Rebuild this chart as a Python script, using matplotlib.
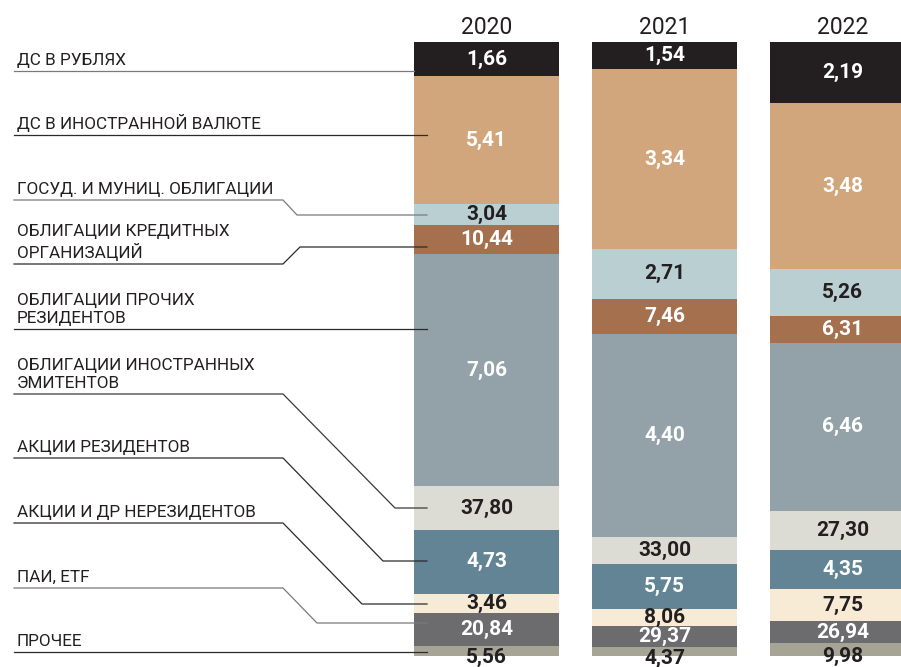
import matplotlib
matplotlib.use("Agg")
import matplotlib.pyplot as plt
from matplotlib.transforms import Affine2D
import numpy as np

plt.rcParams['font.family'] = ['Roboto', 'DejaVu Sans']

categories = ['ДС В РУБЛЯХ', 'ДС В ИНОСТРАННОЙ ВАЛЮТЕ', 'ГОСУД. И МУНИЦ. ОБЛИГАЦИИ',
              'ОБЛИГАЦИИ КРЕДИТНЫХ\nОРГАНИЗАЦИЙ', 'ОБЛИГАЦИИ ПРОЧИХ\nРЕЗИДЕНТОВ',
              'ОБЛИГАЦИИ ИНОСТРАННЫХ\nЭМИТЕНТОВ', 'АКЦИИ РЕЗИДЕНТОВ',
              'АКЦИИ И ДР НЕРЕЗИДЕНТОВ', 'ПАИ, ETF', 'ПРОЧЕЕ']
years = ['2020', '2021', '2022']
v2020 = [1.66, 5.41, 3.04, 10.44, 7.06, 37.80, 4.73, 3.46, 20.84, 5.56]
v2021 = [1.54, 3.34, 2.71, 7.46, 4.40, 33.00, 5.75, 8.06, 29.37, 4.37]
v2022 = [2.19, 3.48, 5.26, 6.31, 6.46, 27.30, 4.35, 7.75, 26.94, 9.98]

colors = ['#231f20', '#d2a67c', '#b9cfd2', '#a5704e', '#93a1a8',
          '#dddcd4', '#628494', '#f8ebd6', '#6c6c6f', '#a6a595']
txt_colors = ['white', 'white', '#231f20', 'white', 'white',
              '#231f20', 'white', '#231f20', 'white', '#231f20']

W, H = 901, 667
fig = plt.figure(figsize=(W / 100, H / 100), dpi=100)
ax = fig.add_axes([0, 0, 1, 1])
# pixel helper for layout (x right, y down)
px = Affine2D().scale(1 / W, -1 / H).translate(0, 1) + fig.transFigure

# 1 unit = 6.14 px, bar top at 42 px, bar step 178 px, first bar centre 486.5 px
ax.set_xlim(-486.5 / 178, (W - 486.5) / 178)
ax.set_ylim((H - 42) / 6.14, -42 / 6.14)
ax.axis('off')

# segments are stacked in reverse order, labels in forward order
for i, vals in enumerate([v2020, v2021, v2022]):
    heights = vals[::-1]
    bottoms = np.concatenate([[0], np.cumsum(heights)[:-1]])
    ax.bar([i] * len(heights), heights, bottom=bottoms, width=145 / 178,
           color=colors, linewidth=0, zorder=2)
    for j, (b, h) in enumerate(zip(bottoms, heights)):
        off = -5 if j == len(heights) - 1 else 0
        ax.annotate(f"{vals[j]:.2f}".replace('.', ','), (i, b + h / 2),
                    xytext=(0, off), textcoords='offset points',
                    ha='center', va='center', fontsize=15, fontweight='bold',
                    color=txt_colors[j], zorder=4)
    ax.text(i, -1.3, years[i], ha='center', va='baseline', fontsize=16.5,
            color='#231f20')

# leader lines: underline y, end y, elbow end x
leaders = [(71, 71, None), (135, 135, None), (200, 215, 297), (264, 247, 300),
           (329, 329, None), (394, 508, 395), (458, 561, 383), (523, 604, 362),
           (588, 623, 317), (652, 652, None)]
line_cols = ['#7a7a7a', '#2a2a2a', '#7a7a7a', '#2a2a2a', '#2a2a2a',
             '#3a3a3a', '#2a2a2a', '#2a2a2a', '#7a7a7a', '#2a2a2a']
for k, (y0, y1, xe) in enumerate(leaders):
    if xe is None:
        xs, ys = [14, 414 if k == 0 else 427], [y0, y0]
    else:
        xs, ys = [14, 283, xe, 427], [y0, y0, y1, y1]
    fig.add_artist(plt.Line2D(xs, ys, transform=px, color=line_cols[k],
                              lw=0.9, zorder=3))
    fig.text(17, y0 - 3, categories[k], transform=px, ha='left', va='bottom',
             fontsize=12.3, color='#231f20', linespacing=1.25)

plt.savefig("out.png", dpi=100, facecolor='w')
